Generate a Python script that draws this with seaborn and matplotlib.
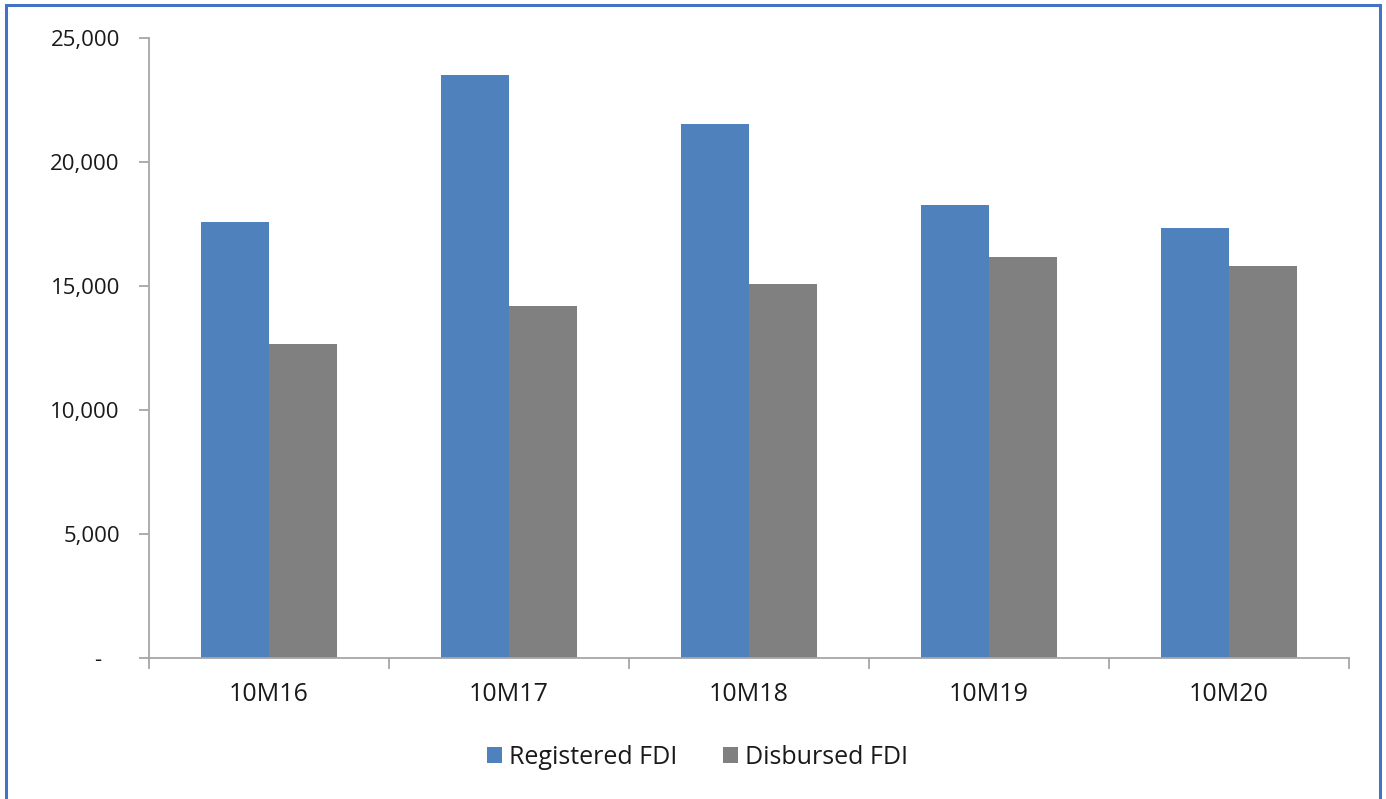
import matplotlib
matplotlib.use("Agg")
import matplotlib.pyplot as plt
import matplotlib.ticker as mticker
from matplotlib.patches import Rectangle
import seaborn as sns
import pandas as pd

categories = ["10M16", "10M17", "10M18", "10M19", "10M20"]
registered = [17600, 23500, 21550, 18270, 17350]
disbursed = [12650, 14200, 15100, 16180, 15800]
series_names = ["Registered FDI", "Disbursed FDI"]
y_ticks = [0, 5000, 10000, 15000, 20000, 25000]

df = pd.DataFrame({
    "period": categories * 2,
    "value": registered + disbursed,
    "series": [series_names[0]] * len(categories) + [series_names[1]] * len(categories),
})

sns.set_theme(style="white")
plt.rcParams["font.family"] = ["Open Sans", "DejaVu Sans"]

fig = plt.figure(figsize=(13.86, 7.99), dpi=100)
ax = fig.add_axes([149/1386, 1-658/799, 1200/1386, 620/799])

palette = {series_names[0]: "#4F81BD", series_names[1]: "#808080"}
sns.barplot(data=df, x="period", y="value", hue="series", palette=palette,
            width=0.57, ax=ax, saturation=1, legend=True, edgecolor="none")

ax.set_xlim(-0.5, len(categories) - 0.5)
ax.set_ylim(0, 25000)
ax.set_yticks(y_ticks)
ax.yaxis.set_major_formatter(mticker.FuncFormatter(lambda v, p: "-   " if v == 0 else f"{int(v):,}"))
ax.set_xlabel("")
ax.set_ylabel("")

for s in ["top", "right"]:
    ax.spines[s].set_visible(False)
for s in ["left", "bottom"]:
    ax.spines[s].set_color("#a6a6a6")
    ax.spines[s].set_linewidth(1.3)

ax.tick_params(axis="y", which="major", left=True, length=7, width=1.3, color="#a6a6a6",
               labelsize=16, labelcolor="#1a1a1a", pad=14)
ax.tick_params(axis="x", which="major", bottom=False, labelsize=18, labelcolor="#1a1a1a", pad=11)
ax.xaxis.set_minor_locator(mticker.FixedLocator([i - 0.5 for i in range(len(categories) + 1)]))
ax.tick_params(axis="x", which="minor", bottom=True, length=8, width=1.3, color="#a6a6a6")

leg = ax.legend(loc="center", bbox_to_anchor=(0.457, -0.16), ncol=2, frameon=False,
                fontsize=18, handlelength=0.6, handleheight=0.6, handletextpad=0.3,
                columnspacing=1.8)
for t in leg.get_texts():
    t.set_color("#1a1a1a")

fig.patches.append(Rectangle((6/1386, -0.01), (1380-6)/1386, 1.01 - 5/799,
                             transform=fig.transFigure, fill=False,
                             edgecolor="#4472C4", linewidth=2.2, clip_on=False))

fig.savefig("out.png", dpi=100)
